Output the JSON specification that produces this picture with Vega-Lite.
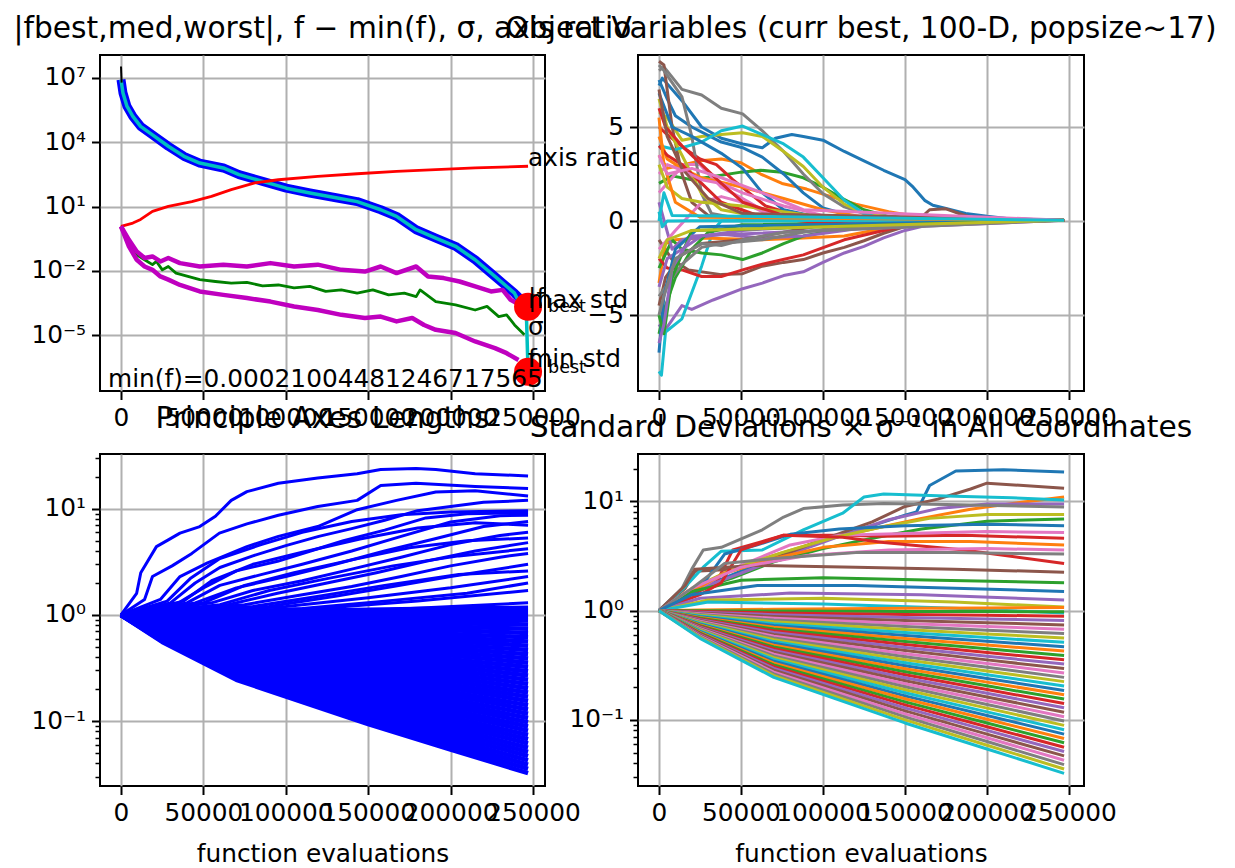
{
"$schema": "https://vega.github.io/schema/vega-lite/v6.json",
"padding": {"left": 12, "top": 13, "right": 0, "bottom": 0},
"background": "white",
"columns": 2,
"spacing": {"row": 63, "column": 93},
"bounds": "flush",
"resolve": {"scale": {"x": "independent", "y": "independent", "color": "independent"}},
"datasets": {
"tl": [
{"s":"absf","x":0,"y":8300000},{"s":"absf","x":1200,"y":2000000},{"s":"absf","x":3600,"y":480000},{"s":"absf","x":7200,"y":160000},{"s":"absf","x":11900,"y":55000},{"s":"absf","x":19100,"y":22000},{"s":"absf","x":28700,"y":6500},{"s":"absf","x":38200,"y":2200},{"s":"absf","x":47800,"y":1070},{"s":"absf","x":62100,"y":630},{"s":"absf","x":71600,"y":310},{"s":"absf","x":85900,"y":150},{"s":"absf","x":100300,"y":72},{"s":"absf","x":114600,"y":43},{"s":"absf","x":131300,"y":25},{"s":"absf","x":143300,"y":17},{"s":"absf","x":157600,"y":7.1},{"s":"absf","x":167200,"y":3.5},{"s":"absf","x":179100,"y":0.83},{"s":"absf","x":191000,"y":0.34},{"s":"absf","x":203000,"y":0.14},{"s":"absf","x":214900,"y":0.033},{"s":"absf","x":226900,"y":0.0055},{"s":"absf","x":238800,"y":0.00091},{"s":"absf","x":244800,"y":0.00032},{"s":"absf","x":247000,"y":0.00021},
{"s":"fmin","x":0,"y":8300000},{"s":"fmin","x":1200,"y":2000000},{"s":"fmin","x":3600,"y":480000},{"s":"fmin","x":7200,"y":160000},{"s":"fmin","x":11900,"y":55000},{"s":"fmin","x":19100,"y":22000},{"s":"fmin","x":28700,"y":6500},{"s":"fmin","x":38200,"y":2200},{"s":"fmin","x":47800,"y":1070},{"s":"fmin","x":62100,"y":630},{"s":"fmin","x":71600,"y":310},{"s":"fmin","x":85900,"y":150},{"s":"fmin","x":100300,"y":72},{"s":"fmin","x":114600,"y":43},{"s":"fmin","x":131300,"y":25},{"s":"fmin","x":143300,"y":17},{"s":"fmin","x":157600,"y":7.1},{"s":"fmin","x":167200,"y":3.5},{"s":"fmin","x":179100,"y":0.83},{"s":"fmin","x":191000,"y":0.34},{"s":"fmin","x":203000,"y":0.14},{"s":"fmin","x":214900,"y":0.033},{"s":"fmin","x":226900,"y":0.0055},{"s":"fmin","x":238800,"y":0.00091},{"s":"fmin","x":244800,"y":0.00011},{"s":"fmin","x":246000,"y":0.00009},{"s":"fmin","x":247000,"y":0.000000195},
{"s":"ar","x":0,"y":1.19},{"s":"ar","x":7200,"y":1.7},{"s":"ar","x":11900,"y":2.5},{"s":"ar","x":19100,"y":6},{"s":"ar","x":28700,"y":10.2},{"s":"ar","x":43000,"y":17},{"s":"ar","x":54900,"y":30},{"s":"ar","x":66900,"y":62},{"s":"ar","x":81200,"y":126},{"s":"ar","x":95500,"y":178},{"s":"ar","x":119400,"y":257},{"s":"ar","x":143300,"y":339},{"s":"ar","x":167200,"y":436},{"s":"ar","x":191000,"y":525},{"s":"ar","x":214900,"y":631},{"s":"ar","x":247000,"y":759},
{"s":"sigma","x":0,"y":1.19},{"s":"sigma","x":4800,"y":0.2},{"s":"sigma","x":9550,"y":0.056},{"s":"sigma","x":14300,"y":0.033},{"s":"sigma","x":19100,"y":0.0195},{"s":"sigma","x":21500,"y":0.0275},{"s":"sigma","x":25100,"y":0.0112},{"s":"sigma","x":28700,"y":0.016},{"s":"sigma","x":33400,"y":0.0079},{"s":"sigma","x":40600,"y":0.0055},{"s":"sigma","x":47800,"y":0.0039},{"s":"sigma","x":57300,"y":0.0032},{"s":"sigma","x":66900,"y":0.0027},{"s":"sigma","x":76400,"y":0.0029},{"s":"sigma","x":85900,"y":0.002},{"s":"sigma","x":95500,"y":0.0022},{"s":"sigma","x":105000,"y":0.0016},{"s":"sigma","x":114600,"y":0.0019},{"s":"sigma","x":124200,"y":0.0011},{"s":"sigma","x":133700,"y":0.0013},{"s":"sigma","x":143300,"y":0.00091},{"s":"sigma","x":152800,"y":0.0013},{"s":"sigma","x":162400,"y":0.00076},{"s":"sigma","x":171900,"y":0.00091},{"s":"sigma","x":179100,"y":0.00063},{"s":"sigma","x":181500,"y":0.0013},{"s":"sigma","x":191000,"y":0.00037},{"s":"sigma","x":203000,"y":0.00026},{"s":"sigma","x":214900,"y":0.00015},{"s":"sigma","x":222100,"y":0.00022},{"s":"sigma","x":229200,"y":0.000074},{"s":"sigma","x":234000,"y":0.000089},{"s":"sigma","x":238800,"y":0.00003},{"s":"sigma","x":244800,"y":0.0000105},
{"s":"maxstd","x":0,"y":1.19},{"s":"maxstd","x":4800,"y":0.28},{"s":"maxstd","x":9550,"y":0.081},{"s":"maxstd","x":14300,"y":0.04},{"s":"maxstd","x":19100,"y":0.047},{"s":"maxstd","x":23900,"y":0.0275},{"s":"maxstd","x":28700,"y":0.04},{"s":"maxstd","x":35800,"y":0.023},{"s":"maxstd","x":47800,"y":0.016},{"s":"maxstd","x":62100,"y":0.0195},{"s":"maxstd","x":76400,"y":0.016},{"s":"maxstd","x":90700,"y":0.023},{"s":"maxstd","x":105000,"y":0.016},{"s":"maxstd","x":119400,"y":0.0195},{"s":"maxstd","x":133700,"y":0.0112},{"s":"maxstd","x":148000,"y":0.0093},{"s":"maxstd","x":157600,"y":0.016},{"s":"maxstd","x":167200,"y":0.0079},{"s":"maxstd","x":179100,"y":0.016},{"s":"maxstd","x":186300,"y":0.0055},{"s":"maxstd","x":195800,"y":0.0046},{"s":"maxstd","x":205400,"y":0.0032},{"s":"maxstd","x":214900,"y":0.0019},{"s":"maxstd","x":224500,"y":0.0011},{"s":"maxstd","x":231600,"y":0.0013},{"s":"maxstd","x":236400,"y":0.00045},{"s":"maxstd","x":240000,"y":0.00032},
{"s":"minstd","x":0,"y":1.19},{"s":"minstd","x":4800,"y":0.138},{"s":"minstd","x":9550,"y":0.033},{"s":"minstd","x":14300,"y":0.016},{"s":"minstd","x":19100,"y":0.0112},{"s":"minstd","x":23900,"y":0.0055},{"s":"minstd","x":28700,"y":0.0039},{"s":"minstd","x":35800,"y":0.0022},{"s":"minstd","x":47800,"y":0.0011},{"s":"minstd","x":62100,"y":0.00076},{"s":"minstd","x":76400,"y":0.00054},{"s":"minstd","x":90700,"y":0.00037},{"s":"minstd","x":105000,"y":0.00022},{"s":"minstd","x":119400,"y":0.00015},{"s":"minstd","x":133700,"y":0.000089},{"s":"minstd","x":148000,"y":0.000063},{"s":"minstd","x":157600,"y":0.000074},{"s":"minstd","x":167200,"y":0.000044},{"s":"minstd","x":176700,"y":0.000063},{"s":"minstd","x":183900,"y":0.00003},{"s":"minstd","x":191000,"y":0.0000178},{"s":"minstd","x":203000,"y":0.0000126},{"s":"minstd","x":214900,"y":0.0000051},{"s":"minstd","x":226900,"y":0.0000025},{"s":"minstd","x":234000,"y":0.00000145},{"s":"minstd","x":241200,"y":0.0000007},
{"s":"worst","x":0,"y":34000000},{"s":"worst","x":400,"y":6000000}
],
"tldots": [{"x":247000,"y":0.00021},{"x":247000,"y":0.000000195}],
"tltext": [
{"x":247000,"y":759,"t":"axis ratio"},
{"x":247000,"y":0.00024,"t":"|f"},
{"x":247000,"y":0.00019,"t":"max std"},
{"x":247000,"y":0.00001,"t":"σ"},
{"x":247000,"y":0.00000033,"t":"f"},
{"x":247000,"y":0.00000033,"t":"min std"},
{"x":-7900,"y":0.000000039,"t":"min(f)=0.00021004481246717565"}
],
"tlsub": [{"x":247000,"y":0.00024,"t":"best"},{"x":247000,"y":0.00000033,"t":"best"}],
"tr": [
{"s":"t01","x":0,"y":7.2},{"s":"t01","x":2000,"y":7.6},{"s":"t01","x":14000,"y":6.4},{"s":"t01","x":26000,"y":5.0},{"s":"t01","x":38000,"y":4.4},{"s":"t01","x":51000,"y":4.1},{"s":"t01","x":63000,"y":3.9},{"s":"t01","x":71000,"y":4.4},{"s":"t01","x":81000,"y":4.6},{"s":"t01","x":88000,"y":4.5},{"s":"t01","x":100000,"y":4.3},{"s":"t01","x":113000,"y":3.7},{"s":"t01","x":125000,"y":3.2},{"s":"t01","x":137000,"y":2.7},{"s":"t01","x":150000,"y":2.2},{"s":"t01","x":155000,"y":1.8},{"s":"t01","x":162000,"y":1.1},{"s":"t01","x":167000,"y":0.84},{"s":"t01","x":175000,"y":0.67},{"s":"t01","x":187000,"y":0.4},{"s":"t01","x":200000,"y":0.25},{"s":"t01","x":212000,"y":0.14},{"s":"t01","x":236000,"y":0.06},{"s":"t01","x":247000,"y":0.05},
{"s":"t02","x":0,"y":3.5},{"s":"t02","x":5000,"y":2.8},{"s":"t02","x":15000,"y":3.0},{"s":"t02","x":25000,"y":3.2},{"s":"t02","x":38000,"y":3.3},{"s":"t02","x":50000,"y":3.1},{"s":"t02","x":62000,"y":2.5},{"s":"t02","x":75000,"y":2.0},{"s":"t02","x":90000,"y":1.7},{"s":"t02","x":105000,"y":1.3},{"s":"t02","x":120000,"y":0.9},{"s":"t02","x":140000,"y":0.5},{"s":"t02","x":160000,"y":0.2},{"s":"t02","x":190000,"y":0.05},{"s":"t02","x":247000,"y":0.04},
{"s":"t03","x":0,"y":2.0},{"s":"t03","x":8000,"y":2.4},{"s":"t03","x":20000,"y":2.2},{"s":"t03","x":35000,"y":2.4},{"s":"t03","x":50000,"y":2.6},{"s":"t03","x":62000,"y":2.7},{"s":"t03","x":75000,"y":2.6},{"s":"t03","x":88000,"y":2.3},{"s":"t03","x":100000,"y":1.8},{"s":"t03","x":112000,"y":1.2},{"s":"t03","x":125000,"y":0.6},{"s":"t03","x":140000,"y":0.25},{"s":"t03","x":170000,"y":0.06},{"s":"t03","x":247000,"y":0.04},
{"s":"t04","x":0,"y":5.0},{"s":"t04","x":5000,"y":4.6},{"s":"t04","x":15000,"y":3.9},{"s":"t04","x":25000,"y":3.3},{"s":"t04","x":35000,"y":3.0},{"s":"t04","x":45000,"y":2.2},{"s":"t04","x":55000,"y":1.5},{"s":"t04","x":65000,"y":0.8},{"s":"t04","x":80000,"y":0.4},{"s":"t04","x":110000,"y":0.15},{"s":"t04","x":160000,"y":0.04},{"s":"t04","x":247000,"y":0.04},
{"s":"t05","x":0,"y":-5.5},{"s":"t05","x":3000,"y":-5.9},{"s":"t05","x":14000,"y":-4.5},{"s":"t05","x":20000,"y":-4.7},{"s":"t05","x":33000,"y":-4.2},{"s":"t05","x":51000,"y":-3.6},{"s":"t05","x":63000,"y":-3.3},{"s":"t05","x":76000,"y":-2.9},{"s":"t05","x":88000,"y":-2.7},{"s":"t05","x":100000,"y":-2.2},{"s":"t05","x":113000,"y":-1.7},{"s":"t05","x":125000,"y":-1.35},{"s":"t05","x":137000,"y":-0.9},{"s":"t05","x":150000,"y":-0.5},{"s":"t05","x":162000,"y":-0.25},{"s":"t05","x":175000,"y":-0.05},{"s":"t05","x":200000,"y":0.03},{"s":"t05","x":247000,"y":0.04},
{"s":"t06","x":0,"y":-1.0},{"s":"t06","x":8000,"y":-2.05},{"s":"t06","x":18000,"y":-2.6},{"s":"t06","x":38000,"y":-2.85},{"s":"t06","x":51000,"y":-2.8},{"s":"t06","x":63000,"y":-2.4},{"s":"t06","x":76000,"y":-2.2},{"s":"t06","x":88000,"y":-2.05},{"s":"t06","x":100000,"y":-1.7},{"s":"t06","x":113000,"y":-1.4},{"s":"t06","x":125000,"y":-1.05},{"s":"t06","x":137000,"y":-0.65},{"s":"t06","x":150000,"y":-0.3},{"s":"t06","x":160000,"y":0.2},{"s":"t06","x":165000,"y":0.6},{"s":"t06","x":175000,"y":0.65},{"s":"t06","x":183000,"y":0.4},{"s":"t06","x":190000,"y":0.2},{"s":"t06","x":210000,"y":0.05},{"s":"t06","x":247000,"y":0.04},
{"s":"t07","x":0,"y":1.5},{"s":"t07","x":10000,"y":2.5},{"s":"t07","x":15000,"y":3.0},{"s":"t07","x":25000,"y":3.0},{"s":"t07","x":38000,"y":1.8},{"s":"t07","x":51000,"y":1.2},{"s":"t07","x":63000,"y":0.6},{"s":"t07","x":76000,"y":0.25},{"s":"t07","x":100000,"y":0.08},{"s":"t07","x":247000,"y":0.04},
{"s":"t08","x":0,"y":8.0},{"s":"t08","x":3000,"y":8.2},{"s":"t08","x":14000,"y":7.0},{"s":"t08","x":26000,"y":6.7},{"s":"t08","x":38000,"y":6.0},{"s":"t08","x":51000,"y":5.7},{"s":"t08","x":63000,"y":4.8},{"s":"t08","x":76000,"y":3.7},{"s":"t08","x":88000,"y":2.5},{"s":"t08","x":100000,"y":1.45},{"s":"t08","x":113000,"y":0.75},{"s":"t08","x":125000,"y":0.4},{"s":"t08","x":137000,"y":0.15},{"s":"t08","x":162000,"y":0.05},{"s":"t08","x":247000,"y":0.04},
{"s":"t09","x":0,"y":5.8},{"s":"t09","x":5000,"y":5.5},{"s":"t09","x":14000,"y":4.3},{"s":"t09","x":26000,"y":4.5},{"s":"t09","x":38000,"y":4.6},{"s":"t09","x":51000,"y":4.7},{"s":"t09","x":63000,"y":4.5},{"s":"t09","x":76000,"y":3.7},{"s":"t09","x":88000,"y":2.9},{"s":"t09","x":100000,"y":1.8},{"s":"t09","x":113000,"y":0.9},{"s":"t09","x":125000,"y":0.4},{"s":"t09","x":150000,"y":0.1},{"s":"t09","x":247000,"y":0.04},
{"s":"t10","x":0,"y":-8.0},{"s":"t10","x":1500,"y":-8.2},{"s":"t10","x":4000,"y":-5.9},{"s":"t10","x":14000,"y":-5.2},{"s":"t10","x":26000,"y":-2.4},{"s":"t10","x":33000,"y":-0.5},{"s":"t10","x":38000,"y":0.0},{"s":"t10","x":247000,"y":0.04},
{"s":"t11","x":0,"y":7.5},{"s":"t11","x":5000,"y":6.5},{"s":"t11","x":10000,"y":5.6},{"s":"t11","x":20000,"y":5.0},{"s":"t11","x":38000,"y":4.2},{"s":"t11","x":51000,"y":3.9},{"s":"t11","x":63000,"y":3.4},{"s":"t11","x":76000,"y":2.5},{"s":"t11","x":88000,"y":1.5},{"s":"t11","x":100000,"y":0.7},{"s":"t11","x":120000,"y":0.2},{"s":"t11","x":150000,"y":0.05},{"s":"t11","x":247000,"y":0.04},
{"s":"t12","x":0,"y":-3.3},{"s":"t12","x":4000,"y":-1.2},{"s":"t12","x":10000,"y":-1.0},{"s":"t12","x":26000,"y":-0.9},{"s":"t12","x":63000,"y":-1.0},{"s":"t12","x":88000,"y":-0.9},{"s":"t12","x":113000,"y":-0.8},{"s":"t12","x":137000,"y":-0.4},{"s":"t12","x":162000,"y":-0.15},{"s":"t12","x":200000,"y":-0.05},{"s":"t12","x":247000,"y":0.04},
{"s":"t13","x":0,"y":-2.5},{"s":"t13","x":8000,"y":-1.0},{"s":"t13","x":14000,"y":-1.5},{"s":"t13","x":26000,"y":-1.7},{"s":"t13","x":38000,"y":-1.8},{"s":"t13","x":51000,"y":-2.05},{"s":"t13","x":63000,"y":-1.7},{"s":"t13","x":76000,"y":-1.2},{"s":"t13","x":88000,"y":-0.8},{"s":"t13","x":113000,"y":-0.4},{"s":"t13","x":137000,"y":-0.15},{"s":"t13","x":175000,"y":-0.02},{"s":"t13","x":247000,"y":0.04},
{"s":"t14","x":0,"y":-2.0},{"s":"t14","x":5000,"y":-2.5},{"s":"t14","x":14000,"y":-2.6},{"s":"t14","x":26000,"y":-2.95},{"s":"t14","x":38000,"y":-2.95},{"s":"t14","x":51000,"y":-2.6},{"s":"t14","x":63000,"y":-2.3},{"s":"t14","x":88000,"y":-1.8},{"s":"t14","x":113000,"y":-1.0},{"s":"t14","x":137000,"y":-0.5},{"s":"t14","x":150000,"y":-0.25},{"s":"t14","x":175000,"y":-0.05},{"s":"t14","x":247000,"y":0.04},
{"s":"t15","x":0,"y":1.0},{"s":"t15","x":8000,"y":-1.5},{"s":"t15","x":14000,"y":-1.0},{"s":"t15","x":38000,"y":-0.7},{"s":"t15","x":63000,"y":-0.9},{"s":"t15","x":88000,"y":-0.8},{"s":"t15","x":113000,"y":-0.5},{"s":"t15","x":137000,"y":-0.2},{"s":"t15","x":175000,"y":0.0},{"s":"t15","x":247000,"y":0.04},
{"s":"t16","x":0,"y":8.5},{"s":"t16","x":3000,"y":8.3},{"s":"t16","x":8000,"y":5.0},{"s":"t16","x":14000,"y":2.5},{"s":"t16","x":20000,"y":1.0},{"s":"t16","x":30000,"y":0.3},{"s":"t16","x":60000,"y":0.1},{"s":"t16","x":247000,"y":0.04},
{"s":"t17","x":0,"y":-1.5},{"s":"t17","x":10000,"y":-0.5},{"s":"t17","x":26000,"y":1.0},{"s":"t17","x":38000,"y":1.3},{"s":"t17","x":51000,"y":1.0},{"s":"t17","x":63000,"y":0.5},{"s":"t17","x":88000,"y":0.2},{"s":"t17","x":247000,"y":0.04},
{"s":"t18","x":0,"y":8.3},{"s":"t18","x":3000,"y":8.0},{"s":"t18","x":14000,"y":6.6},{"s":"t18","x":20000,"y":4.5},{"s":"t18","x":26000,"y":1.45},{"s":"t18","x":32000,"y":0.4},{"s":"t18","x":51000,"y":0.1},{"s":"t18","x":247000,"y":0.04},
{"s":"t19","x":0,"y":6.5},{"s":"t19","x":5000,"y":5.0},{"s":"t19","x":14000,"y":3.5},{"s":"t19","x":26000,"y":1.45},{"s":"t19","x":38000,"y":0.6},{"s":"t19","x":63000,"y":0.2},{"s":"t19","x":247000,"y":0.04},
{"s":"t20","x":0,"y":4.0},{"s":"t20","x":10000,"y":3.8},{"s":"t20","x":26000,"y":4.2},{"s":"t20","x":38000,"y":4.8},{"s":"t20","x":51000,"y":5.05},{"s":"t20","x":63000,"y":4.6},{"s":"t20","x":76000,"y":4.1},{"s":"t20","x":88000,"y":3.4},{"s":"t20","x":100000,"y":2.3},{"s":"t20","x":113000,"y":1.1},{"s":"t20","x":125000,"y":0.4},{"s":"t20","x":137000,"y":0.1},{"s":"t20","x":162000,"y":0.05},{"s":"t20","x":247000,"y":0.04},
{"s":"t21","x":0,"y":6.8},{"s":"t21","x":8000,"y":5.0},{"s":"t21","x":20000,"y":4.5},{"s":"t21","x":38000,"y":3.6},{"s":"t21","x":51000,"y":2.8},{"s":"t21","x":63000,"y":1.5},{"s":"t21","x":76000,"y":0.6},{"s":"t21","x":100000,"y":0.15},{"s":"t21","x":247000,"y":0.04},
{"s":"t22","x":0,"y":4.5},{"s":"t22","x":5000,"y":3.3},{"s":"t22","x":14000,"y":2.8},{"s":"t22","x":26000,"y":2.3},{"s":"t22","x":51000,"y":1.8},{"s":"t22","x":76000,"y":1.2},{"s":"t22","x":100000,"y":0.6},{"s":"t22","x":125000,"y":0.2},{"s":"t22","x":175000,"y":0.05},{"s":"t22","x":247000,"y":0.04},
{"s":"t23","x":0,"y":-6.0},{"s":"t23","x":4000,"y":-4.5},{"s":"t23","x":10000,"y":-3.0},{"s":"t23","x":20000,"y":-1.5},{"s":"t23","x":30000,"y":-0.6},{"s":"t23","x":51000,"y":-0.2},{"s":"t23","x":247000,"y":0.04},
{"s":"t24","x":0,"y":4.0},{"s":"t24","x":5000,"y":3.5},{"s":"t24","x":14000,"y":3.0},{"s":"t24","x":26000,"y":2.0},{"s":"t24","x":38000,"y":1.0},{"s":"t24","x":63000,"y":0.2},{"s":"t24","x":100000,"y":-0.1},{"s":"t24","x":150000,"y":-0.15},{"s":"t24","x":175000,"y":-0.05},{"s":"t24","x":247000,"y":0.04},
{"s":"t25","x":0,"y":-3.5},{"s":"t25","x":5000,"y":-2.0},{"s":"t25","x":14000,"y":-1.5},{"s":"t25","x":26000,"y":-0.8},{"s":"t25","x":51000,"y":-0.5},{"s":"t25","x":88000,"y":-0.3},{"s":"t25","x":125000,"y":-0.1},{"s":"t25","x":247000,"y":0.04},
{"s":"t26","x":0,"y":-4.5},{"s":"t26","x":4000,"y":-3.0},{"s":"t26","x":14000,"y":-1.8},{"s":"t26","x":26000,"y":-1.2},{"s":"t26","x":51000,"y":-1.0},{"s":"t26","x":76000,"y":-0.6},{"s":"t26","x":100000,"y":-0.2},{"s":"t26","x":247000,"y":0.04},
{"s":"t27","x":0,"y":2.5},{"s":"t27","x":5000,"y":3.0},{"s":"t27","x":14000,"y":2.7},{"s":"t27","x":26000,"y":2.2},{"s":"t27","x":38000,"y":2.0},{"s":"t27","x":51000,"y":1.5},{"s":"t27","x":76000,"y":0.8},{"s":"t27","x":100000,"y":0.3},{"s":"t27","x":247000,"y":0.04},
{"s":"t28","x":0,"y":-4.0},{"s":"t28","x":4000,"y":-3.5},{"s":"t28","x":14000,"y":-2.3},{"s":"t28","x":26000,"y":-1.4},{"s":"t28","x":38000,"y":-1.2},{"s":"t28","x":63000,"y":-1.0},{"s":"t28","x":88000,"y":-0.6},{"s":"t28","x":113000,"y":-0.3},{"s":"t28","x":150000,"y":-0.1},{"s":"t28","x":247000,"y":0.04},
{"s":"t29","x":0,"y":3.0},{"s":"t29","x":5000,"y":1.8},{"s":"t29","x":14000,"y":1.2},{"s":"t29","x":26000,"y":1.0},{"s":"t29","x":51000,"y":0.8},{"s":"t29","x":76000,"y":0.5},{"s":"t29","x":100000,"y":0.2},{"s":"t29","x":247000,"y":0.04},
{"s":"t30","x":0,"y":0.5},{"s":"t30","x":2000,"y":-0.3},{"s":"t30","x":5000,"y":0.0},{"s":"t30","x":20000,"y":0.02},{"s":"t30","x":247000,"y":0.04},
{"s":"t31","x":0,"y":-7.0},{"s":"t31","x":3000,"y":-4.0},{"s":"t31","x":10000,"y":-1.5},{"s":"t31","x":25000,"y":-0.3},{"s":"t31","x":247000,"y":0.04},
{"s":"t32","x":0,"y":5.5},{"s":"t32","x":3000,"y":3.0},{"s":"t32","x":10000,"y":1.0},{"s":"t32","x":25000,"y":0.2},{"s":"t32","x":247000,"y":0.04},
{"s":"t33","x":0,"y":-5.0},{"s":"t33","x":3000,"y":-6.0},{"s":"t33","x":8000,"y":-3.0},{"s":"t33","x":20000,"y":-0.5},{"s":"t33","x":247000,"y":0.04},
{"s":"t34","x":0,"y":6.0},{"s":"t34","x":4000,"y":5.0},{"s":"t34","x":14000,"y":4.0},{"s":"t34","x":26000,"y":3.0},{"s":"t34","x":38000,"y":2.0},{"s":"t34","x":51000,"y":1.0},{"s":"t34","x":76000,"y":0.3},{"s":"t34","x":247000,"y":0.04},
{"s":"t35","x":0,"y":-6.5},{"s":"t35","x":3000,"y":-5.5},{"s":"t35","x":8000,"y":-2.5},{"s":"t35","x":20000,"y":-0.8},{"s":"t35","x":247000,"y":0.04},
{"s":"t36","x":0,"y":7.0},{"s":"t36","x":5000,"y":4.5},{"s":"t36","x":14000,"y":2.8},{"s":"t36","x":30000,"y":1.2},{"s":"t36","x":51000,"y":0.4},{"s":"t36","x":247000,"y":0.04},
{"s":"t37","x":0,"y":3.5},{"s":"t37","x":5000,"y":2.5},{"s":"t37","x":20000,"y":2.8},{"s":"t37","x":38000,"y":2.3},{"s":"t37","x":63000,"y":1.5},{"s":"t37","x":88000,"y":0.6},{"s":"t37","x":247000,"y":0.04},
{"s":"t38","x":0,"y":-5.0},{"s":"t38","x":3000,"y":-4.0},{"s":"t38","x":10000,"y":-2.0},{"s":"t38","x":26000,"y":-1.2},{"s":"t38","x":38000,"y":-1.3},{"s":"t38","x":51000,"y":-1.0},{"s":"t38","x":76000,"y":-0.6},{"s":"t38","x":247000,"y":0.04},
{"s":"t39","x":0,"y":-2.0},{"s":"t39","x":5000,"y":-1.0},{"s":"t39","x":20000,"y":-0.5},{"s":"t39","x":247000,"y":0.04},
{"s":"t40","x":0,"y":0.0},{"s":"t40","x":3000,"y":1.5},{"s":"t40","x":8000,"y":0.3},{"s":"t40","x":247000,"y":0.04}
],
"bl": [
{"s":"b01","x":0,"y":1},{"s":"b01","x":9500,"y":1.6},{"s":"b01","x":12000,"y":2.5},{"s":"b01","x":21500,"y":4.4},{"s":"b01","x":28700,"y":5.1},{"s":"b01","x":35800,"y":5.9},{"s":"b01","x":47800,"y":6.8},{"s":"b01","x":57300,"y":8.5},{"s":"b01","x":66900,"y":12},{"s":"b01","x":76400,"y":14.5},{"s":"b01","x":95500,"y":17.4},{"s":"b01","x":119400,"y":19.5},{"s":"b01","x":143300,"y":21.4},{"s":"b01","x":157600,"y":23.4},{"s":"b01","x":179000,"y":24},{"s":"b01","x":191000,"y":23.4},{"s":"b01","x":214900,"y":21.4},{"s":"b01","x":247000,"y":20.4},
{"s":"b02","x":0,"y":1},{"s":"b02","x":14300,"y":1.4},{"s":"b02","x":19100,"y":2.3},{"s":"b02","x":31000,"y":2.9},{"s":"b02","x":43000,"y":3.8},{"s":"b02","x":59700,"y":5.9},{"s":"b02","x":76400,"y":7.2},{"s":"b02","x":95500,"y":8.7},{"s":"b02","x":119400,"y":10.5},{"s":"b02","x":143300,"y":12},{"s":"b02","x":157600,"y":16.6},{"s":"b02","x":179000,"y":17.4},{"s":"b02","x":214900,"y":16.2},{"s":"b02","x":247000,"y":15.5},
{"s":"b03","x":0,"y":1},{"s":"b03","x":23900,"y":1.4},{"s":"b03","x":35800,"y":2.3},{"s":"b03","x":52500,"y":3.1},{"s":"b03","x":76400,"y":4.4},{"s":"b03","x":95500,"y":5.5},{"s":"b03","x":119400,"y":6.8},{"s":"b03","x":143300,"y":9.8},{"s":"b03","x":167200,"y":12},{"s":"b03","x":191000,"y":14.4},{"s":"b03","x":214900,"y":14.8},{"s":"b03","x":247000,"y":13.2},
{"s":"b04","x":0,"y":1},{"s":"b04","x":30000,"y":1.3},{"s":"b04","x":45000,"y":2.0},{"s":"b04","x":60000,"y":2.8},{"s":"b04","x":80000,"y":3.6},{"s":"b04","x":100000,"y":4.5},{"s":"b04","x":120000,"y":5.5},{"s":"b04","x":140000,"y":6.5},{"s":"b04","x":160000,"y":7.8},{"s":"b04","x":180000,"y":9.6},{"s":"b04","x":200000,"y":10.5},{"s":"b04","x":220000,"y":11.5},{"s":"b04","x":247000,"y":12},
{"s":"b05","x":0,"y":1},{"s":"b05","x":35000,"y":1.3},{"s":"b05","x":50000,"y":1.8},{"s":"b05","x":70000,"y":2.6},{"s":"b05","x":95000,"y":3.2},{"s":"b05","x":115000,"y":4.0},{"s":"b05","x":135000,"y":5.0},{"s":"b05","x":160000,"y":6.3},{"s":"b05","x":185000,"y":8.2},{"s":"b05","x":210000,"y":9.0},{"s":"b05","x":247000,"y":9.2},
{"s":"b06","x":0,"y":1},{"s":"b06","x":40000,"y":1.3},{"s":"b06","x":60000,"y":1.9},{"s":"b06","x":85000,"y":2.4},{"s":"b06","x":110000,"y":3.0},{"s":"b06","x":140000,"y":4.0},{"s":"b06","x":170000,"y":5.5},{"s":"b06","x":200000,"y":7.5},{"s":"b06","x":230000,"y":8.6},{"s":"b06","x":247000,"y":8.7},
{"s":"b07","x":0,"y":1},{"s":"b07","x":45000,"y":1.3},{"s":"b07","x":70000,"y":1.8},{"s":"b07","x":100000,"y":2.3},{"s":"b07","x":130000,"y":3.0},{"s":"b07","x":160000,"y":4.0},{"s":"b07","x":190000,"y":5.2},{"s":"b07","x":220000,"y":6.8},{"s":"b07","x":247000,"y":7.6},
{"s":"b08","x":0,"y":1},{"s":"b08","x":55000,"y":1.3},{"s":"b08","x":80000,"y":1.7},{"s":"b08","x":110000,"y":2.1},{"s":"b08","x":140000,"y":2.7},{"s":"b08","x":170000,"y":3.5},{"s":"b08","x":200000,"y":4.6},{"s":"b08","x":230000,"y":5.6},{"s":"b08","x":247000,"y":6.0},
{"s":"b09","x":0,"y":1},{"s":"b09","x":65000,"y":1.25},{"s":"b09","x":95000,"y":1.6},{"s":"b09","x":125000,"y":2.0},{"s":"b09","x":155000,"y":2.5},{"s":"b09","x":185000,"y":3.2},{"s":"b09","x":215000,"y":4.0},{"s":"b09","x":247000,"y":4.8},
{"s":"b10","x":0,"y":1},{"s":"b10","x":75000,"y":1.25},{"s":"b10","x":110000,"y":1.55},{"s":"b10","x":140000,"y":1.85},{"s":"b10","x":170000,"y":2.3},{"s":"b10","x":200000,"y":2.9},{"s":"b10","x":230000,"y":3.5},{"s":"b10","x":247000,"y":3.8},
{"s":"b11","x":0,"y":1},{"s":"b11","x":90000,"y":1.2},{"s":"b11","x":130000,"y":1.5},{"s":"b11","x":165000,"y":1.85},{"s":"b11","x":200000,"y":2.3},{"s":"b11","x":247000,"y":3.0},
{"s":"b12","x":0,"y":1},{"s":"b12","x":100000,"y":1.2},{"s":"b12","x":150000,"y":1.45},{"s":"b12","x":200000,"y":1.8},{"s":"b12","x":247000,"y":2.3},
{"s":"b13","x":0,"y":1},{"s":"b13","x":120000,"y":1.15},{"s":"b13","x":180000,"y":1.35},{"s":"b13","x":247000,"y":1.7},
{"s":"b14","x":0,"y":1},{"s":"b14","x":150000,"y":1.1},{"s":"b14","x":247000,"y":1.3},
{"s":"b15","x":0,"y":1},{"s":"b15","x":28000,"y":1.35},{"s":"b15","x":42000,"y":2.2},{"s":"b15","x":60000,"y":3.4},{"s":"b15","x":85000,"y":4.6},{"s":"b15","x":110000,"y":6.0},{"s":"b15","x":140000,"y":7.6},{"s":"b15","x":170000,"y":8.8},{"s":"b15","x":200000,"y":9.3},{"s":"b15","x":247000,"y":9.6},
{"s":"b16","x":0,"y":1},{"s":"b16","x":38000,"y":1.35},{"s":"b16","x":55000,"y":2.1},{"s":"b16","x":80000,"y":3.0},{"s":"b16","x":110000,"y":3.9},{"s":"b16","x":145000,"y":5.2},{"s":"b16","x":180000,"y":6.6},{"s":"b16","x":215000,"y":7.4},{"s":"b16","x":247000,"y":7.0},
{"s":"b17","x":0,"y":1},{"s":"b17","x":50000,"y":1.3},{"s":"b17","x":75000,"y":1.9},{"s":"b17","x":105000,"y":2.5},{"s":"b17","x":140000,"y":3.3},{"s":"b17","x":175000,"y":4.3},{"s":"b17","x":210000,"y":5.0},{"s":"b17","x":247000,"y":5.3},
{"s":"b18","x":0,"y":1},{"s":"b18","x":60000,"y":1.25},{"s":"b18","x":90000,"y":1.7},{"s":"b18","x":125000,"y":2.2},{"s":"b18","x":165000,"y":2.9},{"s":"b18","x":205000,"y":3.6},{"s":"b18","x":247000,"y":4.2},
{"s":"b19","x":0,"y":1},{"s":"b19","x":80000,"y":1.2},{"s":"b19","x":120000,"y":1.5},{"s":"b19","x":160000,"y":1.9},{"s":"b19","x":205000,"y":2.4},{"s":"b19","x":247000,"y":2.6},
{"s":"b20","x":0,"y":1},{"s":"b20","x":110000,"y":1.15},{"s":"b20","x":160000,"y":1.35},{"s":"b20","x":210000,"y":1.6},{"s":"b20","x":247000,"y":2.0},
{"s":"d01","x":0,"y":1},{"s":"d01","x":25000,"y":0.558},{"s":"d01","x":70000,"y":0.245},{"s":"d01","x":150000,"y":0.0937},{"s":"d01","x":200000,"y":0.0541},{"s":"d01","x":247000,"y":0.0324},
{"s":"d02","x":0,"y":1},{"s":"d02","x":25000,"y":0.567},{"s":"d02","x":70000,"y":0.254},{"s":"d02","x":150000,"y":0.0999},{"s":"d02","x":200000,"y":0.0586},{"s":"d02","x":247000,"y":0.0355},
{"s":"d03","x":0,"y":1},{"s":"d03","x":25000,"y":0.576},{"s":"d03","x":70000,"y":0.264},{"s":"d03","x":150000,"y":0.1064},{"s":"d03","x":200000,"y":0.0633},{"s":"d03","x":247000,"y":0.0389},
{"s":"d04","x":0,"y":1},{"s":"d04","x":25000,"y":0.585},{"s":"d04","x":70000,"y":0.274},{"s":"d04","x":150000,"y":0.1135},{"s":"d04","x":200000,"y":0.0685},{"s":"d04","x":247000,"y":0.0427},
{"s":"d05","x":0,"y":1},{"s":"d05","x":25000,"y":0.594},{"s":"d05","x":70000,"y":0.285},{"s":"d05","x":150000,"y":0.1209},{"s":"d05","x":200000,"y":0.074},{"s":"d05","x":247000,"y":0.0468},
{"s":"d06","x":0,"y":1},{"s":"d06","x":25000,"y":0.604},{"s":"d06","x":70000,"y":0.296},{"s":"d06","x":150000,"y":0.1288},{"s":"d06","x":200000,"y":0.0801},{"s":"d06","x":247000,"y":0.0513},
{"s":"d07","x":0,"y":1},{"s":"d07","x":25000,"y":0.613},{"s":"d07","x":70000,"y":0.307},{"s":"d07","x":150000,"y":0.1372},{"s":"d07","x":200000,"y":0.0866},{"s":"d07","x":247000,"y":0.0562},
{"s":"d08","x":0,"y":1},{"s":"d08","x":25000,"y":0.623},{"s":"d08","x":70000,"y":0.319},{"s":"d08","x":150000,"y":0.1462},{"s":"d08","x":200000,"y":0.0936},{"s":"d08","x":247000,"y":0.0617},
{"s":"d09","x":0,"y":1},{"s":"d09","x":25000,"y":0.633},{"s":"d09","x":70000,"y":0.331},{"s":"d09","x":150000,"y":0.156},{"s":"d09","x":200000,"y":0.1013},{"s":"d09","x":247000,"y":0.0676},
{"s":"d10","x":0,"y":1},{"s":"d10","x":25000,"y":0.643},{"s":"d10","x":70000,"y":0.344},{"s":"d10","x":150000,"y":0.166},{"s":"d10","x":200000,"y":0.1095},{"s":"d10","x":247000,"y":0.0741},
{"s":"d11","x":0,"y":1},{"s":"d11","x":25000,"y":0.653},{"s":"d11","x":70000,"y":0.357},{"s":"d11","x":150000,"y":0.177},{"s":"d11","x":200000,"y":0.1184},{"s":"d11","x":247000,"y":0.0813},
{"s":"d12","x":0,"y":1},{"s":"d12","x":25000,"y":0.663},{"s":"d12","x":70000,"y":0.371},{"s":"d12","x":150000,"y":0.1886},{"s":"d12","x":200000,"y":0.1281},{"s":"d12","x":247000,"y":0.0891},
{"s":"d13","x":0,"y":1},{"s":"d13","x":25000,"y":0.674},{"s":"d13","x":70000,"y":0.385},{"s":"d13","x":150000,"y":0.201},{"s":"d13","x":200000,"y":0.1385},{"s":"d13","x":247000,"y":0.0977},
{"s":"d14","x":0,"y":1},{"s":"d14","x":25000,"y":0.684},{"s":"d14","x":70000,"y":0.4},{"s":"d14","x":150000,"y":0.214},{"s":"d14","x":200000,"y":0.1498},{"s":"d14","x":247000,"y":0.107},
{"s":"d15","x":0,"y":1},{"s":"d15","x":25000,"y":0.695},{"s":"d15","x":70000,"y":0.416},{"s":"d15","x":150000,"y":0.228},{"s":"d15","x":200000,"y":0.162},{"s":"d15","x":247000,"y":0.1175},
{"s":"d16","x":0,"y":1},{"s":"d16","x":25000,"y":0.706},{"s":"d16","x":70000,"y":0.432},{"s":"d16","x":150000,"y":0.243},{"s":"d16","x":200000,"y":0.1752},{"s":"d16","x":247000,"y":0.129},
{"s":"d17","x":0,"y":1},{"s":"d17","x":25000,"y":0.717},{"s":"d17","x":70000,"y":0.448},{"s":"d17","x":150000,"y":0.259},{"s":"d17","x":200000,"y":0.1895},{"s":"d17","x":247000,"y":0.141},
{"s":"d18","x":0,"y":1},{"s":"d18","x":25000,"y":0.728},{"s":"d18","x":70000,"y":0.466},{"s":"d18","x":150000,"y":0.276},{"s":"d18","x":200000,"y":0.2049},{"s":"d18","x":247000,"y":0.155},
{"s":"d19","x":0,"y":1},{"s":"d19","x":25000,"y":0.74},{"s":"d19","x":70000,"y":0.483},{"s":"d19","x":150000,"y":0.294},{"s":"d19","x":200000,"y":0.2216},{"s":"d19","x":247000,"y":0.17},
{"s":"d20","x":0,"y":1},{"s":"d20","x":25000,"y":0.751},{"s":"d20","x":70000,"y":0.502},{"s":"d20","x":150000,"y":0.313},{"s":"d20","x":200000,"y":0.2396},{"s":"d20","x":247000,"y":0.186},
{"s":"d21","x":0,"y":1},{"s":"d21","x":25000,"y":0.763},{"s":"d21","x":70000,"y":0.521},{"s":"d21","x":150000,"y":0.334},{"s":"d21","x":200000,"y":0.2591},{"s":"d21","x":247000,"y":0.204},
{"s":"d22","x":0,"y":1},{"s":"d22","x":25000,"y":0.775},{"s":"d22","x":70000,"y":0.541},{"s":"d22","x":150000,"y":0.356},{"s":"d22","x":200000,"y":0.2802},{"s":"d22","x":247000,"y":0.224},
{"s":"d23","x":0,"y":1},{"s":"d23","x":25000,"y":0.788},{"s":"d23","x":70000,"y":0.562},{"s":"d23","x":150000,"y":0.379},{"s":"d23","x":200000,"y":0.303},{"s":"d23","x":247000,"y":0.245},
{"s":"d24","x":0,"y":1},{"s":"d24","x":25000,"y":0.8},{"s":"d24","x":70000,"y":0.584},{"s":"d24","x":150000,"y":0.404},{"s":"d24","x":200000,"y":0.3277},{"s":"d24","x":247000,"y":0.269},
{"s":"d25","x":0,"y":1},{"s":"d25","x":25000,"y":0.813},{"s":"d25","x":70000,"y":0.606},{"s":"d25","x":150000,"y":0.431},{"s":"d25","x":200000,"y":0.3543},{"s":"d25","x":247000,"y":0.295},
{"s":"d26","x":0,"y":1},{"s":"d26","x":25000,"y":0.826},{"s":"d26","x":70000,"y":0.63},{"s":"d26","x":150000,"y":0.459},{"s":"d26","x":200000,"y":0.3832},{"s":"d26","x":247000,"y":0.324},
{"s":"d27","x":0,"y":1},{"s":"d27","x":25000,"y":0.839},{"s":"d27","x":70000,"y":0.654},{"s":"d27","x":150000,"y":0.489},{"s":"d27","x":200000,"y":0.4144},{"s":"d27","x":247000,"y":0.355},
{"s":"d28","x":0,"y":1},{"s":"d28","x":25000,"y":0.852},{"s":"d28","x":70000,"y":0.679},{"s":"d28","x":150000,"y":0.521},{"s":"d28","x":200000,"y":0.4481},{"s":"d28","x":247000,"y":0.389},
{"s":"d29","x":0,"y":1},{"s":"d29","x":25000,"y":0.865},{"s":"d29","x":70000,"y":0.705},{"s":"d29","x":150000,"y":0.556},{"s":"d29","x":200000,"y":0.4846},{"s":"d29","x":247000,"y":0.427},
{"s":"d30","x":0,"y":1},{"s":"d30","x":25000,"y":0.879},{"s":"d30","x":70000,"y":0.732},{"s":"d30","x":150000,"y":0.592},{"s":"d30","x":200000,"y":0.524},{"s":"d30","x":247000,"y":0.468},
{"s":"d31","x":0,"y":1},{"s":"d31","x":25000,"y":0.893},{"s":"d31","x":70000,"y":0.76},{"s":"d31","x":150000,"y":0.631},{"s":"d31","x":200000,"y":0.5667},{"s":"d31","x":247000,"y":0.513},
{"s":"d32","x":0,"y":1},{"s":"d32","x":25000,"y":0.907},{"s":"d32","x":70000,"y":0.79},{"s":"d32","x":150000,"y":0.672},{"s":"d32","x":200000,"y":0.6129},{"s":"d32","x":247000,"y":0.562},
{"s":"d33","x":0,"y":1},{"s":"d33","x":25000,"y":0.921},{"s":"d33","x":70000,"y":0.82},{"s":"d33","x":150000,"y":0.716},{"s":"d33","x":200000,"y":0.6628},{"s":"d33","x":247000,"y":0.617},
{"s":"d34","x":0,"y":1},{"s":"d34","x":25000,"y":0.936},{"s":"d34","x":70000,"y":0.851},{"s":"d34","x":150000,"y":0.763},{"s":"d34","x":200000,"y":0.7167},{"s":"d34","x":247000,"y":0.676},
{"s":"d35","x":0,"y":1},{"s":"d35","x":25000,"y":0.95},{"s":"d35","x":70000,"y":0.885},{"s":"d35","x":150000,"y":0.813},{"s":"d35","x":200000,"y":0.775},{"s":"d35","x":247000,"y":0.741},
{"s":"d36","x":0,"y":1},{"s":"d36","x":25000,"y":0.965},{"s":"d36","x":70000,"y":0.919},{"s":"d36","x":150000,"y":0.867},{"s":"d36","x":200000,"y":0.8384},{"s":"d36","x":247000,"y":0.813},
{"s":"d37","x":0,"y":1},{"s":"d37","x":25000,"y":0.981},{"s":"d37","x":70000,"y":0.954},{"s":"d37","x":150000,"y":0.924},{"s":"d37","x":200000,"y":0.9068},{"s":"d37","x":247000,"y":0.891},
{"s":"d38","x":0,"y":1},{"s":"d38","x":25000,"y":0.996},{"s":"d38","x":70000,"y":0.991},{"s":"d38","x":150000,"y":0.984},{"s":"d38","x":200000,"y":0.9806},{"s":"d38","x":247000,"y":0.977},
{"s":"d39","x":0,"y":1},{"s":"d39","x":25000,"y":1.012},{"s":"d39","x":70000,"y":1.03},{"s":"d39","x":150000,"y":1.05},{"s":"d39","x":200000,"y":1.06},{"s":"d39","x":247000,"y":1.07},
{"s":"d40","x":0,"y":1},{"s":"d40","x":25000,"y":1.028},{"s":"d40","x":70000,"y":1.07},{"s":"d40","x":150000,"y":1.12},{"s":"d40","x":200000,"y":1.147},{"s":"d40","x":247000,"y":1.17}
],
"br": [
{"s":"c01","x":0,"y":1},{"s":"c01","x":20000,"y":1.5},{"s":"c01","x":50000,"y":2.3},{"s":"c01","x":75000,"y":3.2},{"s":"c01","x":100000,"y":4.5},{"s":"c01","x":130000,"y":6.0},{"s":"c01","x":150000,"y":7.5},{"s":"c01","x":157000,"y":8.0},{"s":"c01","x":165000,"y":14},{"s":"c01","x":181000,"y":19},{"s":"c01","x":210000,"y":19.5},{"s":"c01","x":247000,"y":18.6},
{"s":"c02","x":0,"y":1},{"s":"c02","x":25000,"y":1.7},{"s":"c02","x":45000,"y":2.4},{"s":"c02","x":70000,"y":3.2},{"s":"c02","x":100000,"y":4.4},{"s":"c02","x":130000,"y":5.6},{"s":"c02","x":160000,"y":7.0},{"s":"c02","x":190000,"y":8.5},{"s":"c02","x":220000,"y":9.8},{"s":"c02","x":247000,"y":11},
{"s":"c03","x":0,"y":1},{"s":"c03","x":20000,"y":1.5},{"s":"c03","x":45000,"y":2.0},{"s":"c03","x":70000,"y":2.8},{"s":"c03","x":100000,"y":3.7},{"s":"c03","x":130000,"y":4.6},{"s":"c03","x":160000,"y":5.6},{"s":"c03","x":200000,"y":6.6},{"s":"c03","x":247000,"y":6.9},
{"s":"c04","x":0,"y":1},{"s":"c04","x":35000,"y":1.8},{"s":"c04","x":45000,"y":3.6},{"s":"c04","x":76000,"y":4.9},{"s":"c04","x":112000,"y":4.9},{"s":"c04","x":137000,"y":4.8},{"s":"c04","x":186000,"y":4.9},{"s":"c04","x":247000,"y":4.6},
{"s":"c05","x":0,"y":1},{"s":"c05","x":20000,"y":1.5},{"s":"c05","x":50000,"y":2.2},{"s":"c05","x":80000,"y":3.3},{"s":"c05","x":110000,"y":4.8},{"s":"c05","x":140000,"y":6.8},{"s":"c05","x":170000,"y":8.6},{"s":"c05","x":200000,"y":9.5},{"s":"c05","x":247000,"y":9.5},
{"s":"c06","x":0,"y":1},{"s":"c06","x":16000,"y":1.6},{"s":"c06","x":22000,"y":2.3},{"s":"c06","x":45000,"y":2.4},{"s":"c06","x":70000,"y":3.0},{"s":"c06","x":100000,"y":4.5},{"s":"c06","x":130000,"y":6.5},{"s":"c06","x":150000,"y":9.0},{"s":"c06","x":170000,"y":10.5},{"s":"c06","x":190000,"y":13},{"s":"c06","x":200000,"y":14.7},{"s":"c06","x":247000,"y":13.2},
{"s":"c07","x":0,"y":1},{"s":"c07","x":20000,"y":1.5},{"s":"c07","x":50000,"y":2.6},{"s":"c07","x":80000,"y":4.0},{"s":"c07","x":110000,"y":4.9},{"s":"c07","x":150000,"y":5.1},{"s":"c07","x":200000,"y":5.3},{"s":"c07","x":247000,"y":5.2},
{"s":"c08","x":0,"y":1},{"s":"c08","x":14000,"y":1.6},{"s":"c08","x":20000,"y":2.4},{"s":"c08","x":27000,"y":3.6},{"s":"c08","x":38000,"y":3.8},{"s":"c08","x":63000,"y":5.5},{"s":"c08","x":76000,"y":7.2},{"s":"c08","x":88000,"y":8.6},{"s":"c08","x":112000,"y":9.3},{"s":"c08","x":137000,"y":9.6},{"s":"c08","x":175000,"y":9.4},{"s":"c08","x":247000,"y":8.9},
{"s":"c09","x":0,"y":1},{"s":"c09","x":20000,"y":1.6},{"s":"c09","x":45000,"y":2.4},{"s":"c09","x":75000,"y":3.4},{"s":"c09","x":105000,"y":4.6},{"s":"c09","x":135000,"y":5.8},{"s":"c09","x":165000,"y":7.0},{"s":"c09","x":200000,"y":7.6},{"s":"c09","x":247000,"y":7.6},
{"s":"c10","x":0,"y":1},{"s":"c10","x":15000,"y":1.6},{"s":"c10","x":27000,"y":2.5},{"s":"c10","x":38000,"y":3.5},{"s":"c10","x":63000,"y":3.6},{"s":"c10","x":88000,"y":5.5},{"s":"c10","x":112000,"y":7.8},{"s":"c10","x":125000,"y":11},{"s":"c10","x":137000,"y":11.7},{"s":"c10","x":175000,"y":11.2},{"s":"c10","x":215000,"y":10.8},{"s":"c10","x":247000,"y":10.3},
{"s":"c11","x":0,"y":1},{"s":"c11","x":25000,"y":1.6},{"s":"c11","x":40000,"y":3.3},{"s":"c11","x":60000,"y":4.0},{"s":"c11","x":80000,"y":5.0},{"s":"c11","x":110000,"y":5.6},{"s":"c11","x":150000,"y":6.0},{"s":"c11","x":200000,"y":6.2},{"s":"c11","x":247000,"y":6.0},
{"s":"c12","x":0,"y":1},{"s":"c12","x":20000,"y":1.5},{"s":"c12","x":40000,"y":2.2},{"s":"c12","x":70000,"y":3.0},{"s":"c12","x":100000,"y":3.8},{"s":"c12","x":140000,"y":4.3},{"s":"c12","x":190000,"y":4.3},{"s":"c12","x":247000,"y":4.0},
{"s":"c13","x":0,"y":1},{"s":"c13","x":20000,"y":1.5},{"s":"c13","x":50000,"y":1.9},{"s":"c13","x":100000,"y":2.0},{"s":"c13","x":170000,"y":1.9},{"s":"c13","x":247000,"y":1.8},
{"s":"c14","x":0,"y":1},{"s":"c14","x":25000,"y":1.4},{"s":"c14","x":38000,"y":1.8},{"s":"c14","x":50000,"y":3.6},{"s":"c14","x":76000,"y":4.9},{"s":"c14","x":112000,"y":4.7},{"s":"c14","x":137000,"y":4.2},{"s":"c14","x":186000,"y":3.6},{"s":"c14","x":247000,"y":2.7},
{"s":"c15","x":0,"y":1},{"s":"c15","x":25000,"y":1.3},{"s":"c15","x":80000,"y":1.45},{"s":"c15","x":160000,"y":1.4},{"s":"c15","x":247000,"y":1.25},
{"s":"c16","x":0,"y":1},{"s":"c16","x":16000,"y":1.7},{"s":"c16","x":22000,"y":2.4},{"s":"c16","x":60000,"y":2.6},{"s":"c16","x":120000,"y":2.5},{"s":"c16","x":180000,"y":2.4},{"s":"c16","x":247000,"y":2.25},
{"s":"c17","x":0,"y":1},{"s":"c17","x":20000,"y":1.6},{"s":"c17","x":50000,"y":2.5},{"s":"c17","x":90000,"y":3.2},{"s":"c17","x":140000,"y":3.6},{"s":"c17","x":200000,"y":3.7},{"s":"c17","x":247000,"y":3.6},
{"s":"c18","x":0,"y":1},{"s":"c18","x":20000,"y":1.6},{"s":"c18","x":40000,"y":2.7},{"s":"c18","x":70000,"y":3.0},{"s":"c18","x":120000,"y":3.4},{"s":"c18","x":180000,"y":3.4},{"s":"c18","x":247000,"y":3.3},
{"s":"c19","x":0,"y":1},{"s":"c19","x":30000,"y":1.25},{"s":"c19","x":100000,"y":1.3},{"s":"c19","x":180000,"y":1.2},{"s":"c19","x":247000,"y":1.08},
{"s":"c20","x":0,"y":1},{"s":"c20","x":30000,"y":1.2},{"s":"c20","x":100000,"y":1.15},{"s":"c20","x":180000,"y":1.05},{"s":"c20","x":247000,"y":0.95},
{"s":"c21","x":0,"y":1},{"s":"c21","x":20000,"y":1.4},{"s":"c21","x":60000,"y":1.7},{"s":"c21","x":120000,"y":1.7},{"s":"c21","x":247000,"y":1.5},
{"s":"c22","x":0,"y":1},{"s":"c22","x":25000,"y":1.012},{"s":"c22","x":70000,"y":1.03},{"s":"c22","x":150000,"y":1.05},{"s":"c22","x":200000,"y":1.06},{"s":"c22","x":247000,"y":1.07},
{"s":"c23","x":0,"y":1},{"s":"c23","x":25000,"y":0.996},{"s":"c23","x":70000,"y":0.991},{"s":"c23","x":150000,"y":0.984},{"s":"c23","x":200000,"y":0.9806},{"s":"c23","x":247000,"y":0.977},
{"s":"c24","x":0,"y":1},{"s":"c24","x":25000,"y":0.981},{"s":"c24","x":70000,"y":0.954},{"s":"c24","x":150000,"y":0.924},{"s":"c24","x":200000,"y":0.9068},{"s":"c24","x":247000,"y":0.891},
{"s":"c25","x":0,"y":1},{"s":"c25","x":25000,"y":0.965},{"s":"c25","x":70000,"y":0.919},{"s":"c25","x":150000,"y":0.867},{"s":"c25","x":200000,"y":0.8384},{"s":"c25","x":247000,"y":0.813},
{"s":"c26","x":0,"y":1},{"s":"c26","x":25000,"y":0.95},{"s":"c26","x":70000,"y":0.885},{"s":"c26","x":150000,"y":0.813},{"s":"c26","x":200000,"y":0.775},{"s":"c26","x":247000,"y":0.741},
{"s":"c27","x":0,"y":1},{"s":"c27","x":25000,"y":0.936},{"s":"c27","x":70000,"y":0.851},{"s":"c27","x":150000,"y":0.763},{"s":"c27","x":200000,"y":0.7167},{"s":"c27","x":247000,"y":0.676},
{"s":"c28","x":0,"y":1},{"s":"c28","x":25000,"y":0.921},{"s":"c28","x":70000,"y":0.82},{"s":"c28","x":150000,"y":0.716},{"s":"c28","x":200000,"y":0.6628},{"s":"c28","x":247000,"y":0.617},
{"s":"c29","x":0,"y":1},{"s":"c29","x":25000,"y":0.907},{"s":"c29","x":70000,"y":0.79},{"s":"c29","x":150000,"y":0.672},{"s":"c29","x":200000,"y":0.6129},{"s":"c29","x":247000,"y":0.562},
{"s":"c30","x":0,"y":1},{"s":"c30","x":25000,"y":0.893},{"s":"c30","x":70000,"y":0.76},{"s":"c30","x":150000,"y":0.631},{"s":"c30","x":200000,"y":0.5667},{"s":"c30","x":247000,"y":0.513},
{"s":"c31","x":0,"y":1},{"s":"c31","x":25000,"y":0.879},{"s":"c31","x":70000,"y":0.732},{"s":"c31","x":150000,"y":0.592},{"s":"c31","x":200000,"y":0.524},{"s":"c31","x":247000,"y":0.468},
{"s":"c32","x":0,"y":1},{"s":"c32","x":25000,"y":0.865},{"s":"c32","x":70000,"y":0.705},{"s":"c32","x":150000,"y":0.556},{"s":"c32","x":200000,"y":0.4846},{"s":"c32","x":247000,"y":0.427},
{"s":"c33","x":0,"y":1},{"s":"c33","x":25000,"y":0.852},{"s":"c33","x":70000,"y":0.679},{"s":"c33","x":150000,"y":0.521},{"s":"c33","x":200000,"y":0.4481},{"s":"c33","x":247000,"y":0.389},
{"s":"c34","x":0,"y":1},{"s":"c34","x":25000,"y":0.839},{"s":"c34","x":70000,"y":0.654},{"s":"c34","x":150000,"y":0.489},{"s":"c34","x":200000,"y":0.4144},{"s":"c34","x":247000,"y":0.355},
{"s":"c35","x":0,"y":1},{"s":"c35","x":25000,"y":0.826},{"s":"c35","x":70000,"y":0.63},{"s":"c35","x":150000,"y":0.459},{"s":"c35","x":200000,"y":0.3832},{"s":"c35","x":247000,"y":0.324},
{"s":"c36","x":0,"y":1},{"s":"c36","x":25000,"y":0.813},{"s":"c36","x":70000,"y":0.606},{"s":"c36","x":150000,"y":0.431},{"s":"c36","x":200000,"y":0.3543},{"s":"c36","x":247000,"y":0.295},
{"s":"c37","x":0,"y":1},{"s":"c37","x":25000,"y":0.8},{"s":"c37","x":70000,"y":0.584},{"s":"c37","x":150000,"y":0.404},{"s":"c37","x":200000,"y":0.3277},{"s":"c37","x":247000,"y":0.269},
{"s":"c38","x":0,"y":1},{"s":"c38","x":25000,"y":0.788},{"s":"c38","x":70000,"y":0.562},{"s":"c38","x":150000,"y":0.379},{"s":"c38","x":200000,"y":0.303},{"s":"c38","x":247000,"y":0.245},
{"s":"c39","x":0,"y":1},{"s":"c39","x":25000,"y":0.775},{"s":"c39","x":70000,"y":0.541},{"s":"c39","x":150000,"y":0.356},{"s":"c39","x":200000,"y":0.2802},{"s":"c39","x":247000,"y":0.224},
{"s":"c40","x":0,"y":1},{"s":"c40","x":25000,"y":0.763},{"s":"c40","x":70000,"y":0.521},{"s":"c40","x":150000,"y":0.334},{"s":"c40","x":200000,"y":0.2591},{"s":"c40","x":247000,"y":0.204},
{"s":"c41","x":0,"y":1},{"s":"c41","x":25000,"y":0.751},{"s":"c41","x":70000,"y":0.502},{"s":"c41","x":150000,"y":0.313},{"s":"c41","x":200000,"y":0.2396},{"s":"c41","x":247000,"y":0.186},
{"s":"c42","x":0,"y":1},{"s":"c42","x":25000,"y":0.74},{"s":"c42","x":70000,"y":0.483},{"s":"c42","x":150000,"y":0.294},{"s":"c42","x":200000,"y":0.2216},{"s":"c42","x":247000,"y":0.17},
{"s":"c43","x":0,"y":1},{"s":"c43","x":25000,"y":0.728},{"s":"c43","x":70000,"y":0.466},{"s":"c43","x":150000,"y":0.276},{"s":"c43","x":200000,"y":0.2049},{"s":"c43","x":247000,"y":0.155},
{"s":"c44","x":0,"y":1},{"s":"c44","x":25000,"y":0.717},{"s":"c44","x":70000,"y":0.448},{"s":"c44","x":150000,"y":0.259},{"s":"c44","x":200000,"y":0.1895},{"s":"c44","x":247000,"y":0.141},
{"s":"c45","x":0,"y":1},{"s":"c45","x":25000,"y":0.706},{"s":"c45","x":70000,"y":0.432},{"s":"c45","x":150000,"y":0.243},{"s":"c45","x":200000,"y":0.1752},{"s":"c45","x":247000,"y":0.129},
{"s":"c46","x":0,"y":1},{"s":"c46","x":25000,"y":0.695},{"s":"c46","x":70000,"y":0.416},{"s":"c46","x":150000,"y":0.228},{"s":"c46","x":200000,"y":0.162},{"s":"c46","x":247000,"y":0.1175},
{"s":"c47","x":0,"y":1},{"s":"c47","x":25000,"y":0.684},{"s":"c47","x":70000,"y":0.4},{"s":"c47","x":150000,"y":0.214},{"s":"c47","x":200000,"y":0.1498},{"s":"c47","x":247000,"y":0.107},
{"s":"c48","x":0,"y":1},{"s":"c48","x":25000,"y":0.674},{"s":"c48","x":70000,"y":0.385},{"s":"c48","x":150000,"y":0.201},{"s":"c48","x":200000,"y":0.1385},{"s":"c48","x":247000,"y":0.0977},
{"s":"c49","x":0,"y":1},{"s":"c49","x":25000,"y":0.663},{"s":"c49","x":70000,"y":0.371},{"s":"c49","x":150000,"y":0.1886},{"s":"c49","x":200000,"y":0.1281},{"s":"c49","x":247000,"y":0.0891},
{"s":"c50","x":0,"y":1},{"s":"c50","x":25000,"y":0.653},{"s":"c50","x":70000,"y":0.357},{"s":"c50","x":150000,"y":0.177},{"s":"c50","x":200000,"y":0.1184},{"s":"c50","x":247000,"y":0.0813},
{"s":"c51","x":0,"y":1},{"s":"c51","x":25000,"y":0.643},{"s":"c51","x":70000,"y":0.344},{"s":"c51","x":150000,"y":0.166},{"s":"c51","x":200000,"y":0.1095},{"s":"c51","x":247000,"y":0.0741},
{"s":"c52","x":0,"y":1},{"s":"c52","x":25000,"y":0.633},{"s":"c52","x":70000,"y":0.331},{"s":"c52","x":150000,"y":0.156},{"s":"c52","x":200000,"y":0.1013},{"s":"c52","x":247000,"y":0.0676},
{"s":"c53","x":0,"y":1},{"s":"c53","x":25000,"y":0.623},{"s":"c53","x":70000,"y":0.319},{"s":"c53","x":150000,"y":0.1462},{"s":"c53","x":200000,"y":0.0936},{"s":"c53","x":247000,"y":0.0617},
{"s":"c54","x":0,"y":1},{"s":"c54","x":25000,"y":0.613},{"s":"c54","x":70000,"y":0.307},{"s":"c54","x":150000,"y":0.1372},{"s":"c54","x":200000,"y":0.0866},{"s":"c54","x":247000,"y":0.0562},
{"s":"c55","x":0,"y":1},{"s":"c55","x":25000,"y":0.604},{"s":"c55","x":70000,"y":0.296},{"s":"c55","x":150000,"y":0.1288},{"s":"c55","x":200000,"y":0.0801},{"s":"c55","x":247000,"y":0.0513},
{"s":"c56","x":0,"y":1},{"s":"c56","x":25000,"y":0.594},{"s":"c56","x":70000,"y":0.285},{"s":"c56","x":150000,"y":0.1209},{"s":"c56","x":200000,"y":0.074},{"s":"c56","x":247000,"y":0.0468},
{"s":"c57","x":0,"y":1},{"s":"c57","x":25000,"y":0.585},{"s":"c57","x":70000,"y":0.274},{"s":"c57","x":150000,"y":0.1135},{"s":"c57","x":200000,"y":0.0685},{"s":"c57","x":247000,"y":0.0427},
{"s":"c58","x":0,"y":1},{"s":"c58","x":25000,"y":0.576},{"s":"c58","x":70000,"y":0.264},{"s":"c58","x":150000,"y":0.1064},{"s":"c58","x":200000,"y":0.0633},{"s":"c58","x":247000,"y":0.0389},
{"s":"c59","x":0,"y":1},{"s":"c59","x":25000,"y":0.567},{"s":"c59","x":70000,"y":0.254},{"s":"c59","x":150000,"y":0.0999},{"s":"c59","x":200000,"y":0.0586},{"s":"c59","x":247000,"y":0.0355},
{"s":"c60","x":0,"y":1},{"s":"c60","x":25000,"y":0.558},{"s":"c60","x":70000,"y":0.245},{"s":"c60","x":150000,"y":0.0937},{"s":"c60","x":200000,"y":0.0541},{"s":"c60","x":247000,"y":0.0324}
]
},
"concat": [
{
"width": 445, "height": 336,
"title": {"text": "|fbest,med,worst|, f − min(f), σ, axis ratio", "frame": "group", "offset": 10},
"encoding": {
"x": {"field": "x", "type": "quantitative", "scale": {"domain": [-12740, 257280], "nice": false, "zero": false}, "axis": {"values": [0, 50000, 100000, 150000, 200000, 250000], "format": "d", "title": null}},
"y": {"field": "y", "type": "quantitative", "scale": {"type": "log", "domain": [2.5e-8, 1.17e8], "nice": false}, "axis": {"values": [0.00001, 0.01, 10, 10000, 10000000], "title": null, "labelExpr": "datum.value > 1000000 ? '10⁷' : datum.value > 1000 ? '10⁴' : datum.value > 1 ? '10¹' : datum.value > 0.001 ? '10⁻²' : '10⁻⁵'"}}
},
"layer": [
{"data": {"name": "tl"}, "transform": [{"filter": "datum.s == 'absf'"}], "mark": {"type": "line", "color": "#0000ff", "strokeWidth": 9, "strokeJoin": "round"}},
{"data": {"name": "tl"}, "transform": [{"filter": "datum.s == 'fmin'"}], "mark": {"type": "line", "color": "#00bfbf", "strokeWidth": 3.5, "strokeJoin": "round"}},
{"data": {"name": "tl"}, "transform": [{"filter": "datum.s == 'ar'"}], "mark": {"type": "line", "color": "#ff0000", "strokeWidth": 2.8, "strokeJoin": "round"}},
{"data": {"name": "tl"}, "transform": [{"filter": "datum.s == 'sigma'"}], "mark": {"type": "line", "color": "#008000", "strokeWidth": 2.8, "strokeJoin": "round"}},
{"data": {"name": "tl"}, "transform": [{"filter": "datum.s == 'maxstd' || datum.s == 'minstd'"}], "mark": {"type": "line", "color": "#bf00bf", "strokeWidth": 4.5, "strokeJoin": "round"}, "encoding": {"detail": {"field": "s"}}},
{"data": {"name": "tl"}, "transform": [{"filter": "datum.s == 'worst'"}], "mark": {"type": "line", "color": "#000000", "strokeWidth": 2}},
{"data": {"name": "tldots"}, "mark": {"type": "circle", "color": "#ff0000", "size": 784, "opacity": 1}},
{"data": {"name": "tltext"}, "mark": {"type": "text", "align": "left", "baseline": "alphabetic", "fontSize": 24.8, "font": "DejaVu Sans", "color": "#000000"}, "encoding": {"text": {"field": "t"}}},
{"data": {"name": "tlsub"}, "mark": {"type": "text", "align": "left", "baseline": "alphabetic", "fontSize": 17.5, "font": "DejaVu Sans", "color": "#000000", "dx": 20, "dy": 6}, "encoding": {"text": {"field": "t"}}}
]
},
{
"width": 446, "height": 336,
"title": {"text": "Object Variables (curr best, 100-D, popsize~17)", "frame": "group", "offset": 10},
"data": {"name": "tr"},
"mark": {"type": "line", "strokeWidth": 3, "strokeJoin": "round"},
"encoding": {
"x": {"field": "x", "type": "quantitative", "scale": {"domain": [-12800, 259150], "nice": false, "zero": false}, "axis": {"values": [0, 50000, 100000, 150000, 200000, 250000], "format": "d", "title": null}},
"y": {"field": "y", "type": "quantitative", "scale": {"domain": [-9.04, 8.83], "nice": false, "zero": false}, "axis": {"values": [-5, 0, 5], "title": null}},
"color": {"field": "s", "type": "nominal", "scale": {"range": ["#1f77b4","#ff7f0e","#2ca02c","#d62728","#9467bd","#8c564b","#e377c2","#7f7f7f","#bcbd22","#17becf"]}, "legend": null}
}
},
{
"width": 445, "height": 332,
"title": {"text": "Principle Axes Lengths", "frame": "group", "offset": 10},
"data": {"name": "bl"},
"encoding": {
"x": {"field": "x", "type": "quantitative", "scale": {"domain": [-12740, 257280], "nice": false, "zero": false}, "axis": {"values": [0, 50000, 100000, 150000, 200000, 250000], "format": "d", "title": "function evaluations"}},
"y": {"field": "y", "type": "quantitative", "scale": {"type": "log", "domain": [0.0245, 32.8], "nice": false}, "axis": {"values": [0.03,0.04,0.05,0.06,0.07,0.08,0.09,0.1,0.2,0.3,0.4,0.5,0.6,0.7,0.8,0.9,1,2,3,4,5,6,7,8,9,10,20,30], "title": null,
"labelExpr": "abs(datum.value-10)<0.001 ? '10¹' : abs(datum.value-1)<0.0001 ? '10⁰' : abs(datum.value-0.1)<0.00001 ? '10⁻¹' : ''",
"gridOpacity": {"condition": {"test": "abs(datum.value-10)<0.001 || abs(datum.value-1)<0.0001 || abs(datum.value-0.1)<0.00001", "value": 1}, "value": 0},
"tickSize": {"condition": {"test": "abs(datum.value-10)<0.001 || abs(datum.value-1)<0.0001 || abs(datum.value-0.1)<0.00001", "value": 8.5}, "value": 5},
"tickWidth": {"condition": {"test": "abs(datum.value-10)<0.001 || abs(datum.value-1)<0.0001 || abs(datum.value-0.1)<0.00001", "value": 2}, "value": 1.5}}},
"detail": {"field": "s"}
},
"layer": [
{"transform": [{"filter": "indexof(datum.s, 'd') == 0"}], "mark": {"type": "line", "color": "#0000ff", "strokeWidth": 4.6, "strokeJoin": "round"}},
{"transform": [{"filter": "indexof(datum.s, 'b') == 0"}], "mark": {"type": "line", "color": "#0000ff", "strokeWidth": 3, "strokeJoin": "round"}}
]
},
{
"width": 446, "height": 332,
"title": {"text": "Standard Deviations × σ⁻¹ in All Coordinates", "frame": "group", "offset": 10},
"data": {"name": "br"},
"mark": {"type": "line", "strokeWidth": 3, "strokeJoin": "round"},
"encoding": {
"x": {"field": "x", "type": "quantitative", "scale": {"domain": [-12800, 259150], "nice": false, "zero": false}, "axis": {"values": [0, 50000, 100000, 150000, 200000, 250000], "format": "d", "title": "function evaluations"}},
"y": {"field": "y", "type": "quantitative", "scale": {"type": "log", "domain": [0.0248, 27.2], "nice": false}, "axis": {"values": [0.03,0.04,0.05,0.06,0.07,0.08,0.09,0.1,0.2,0.3,0.4,0.5,0.6,0.7,0.8,0.9,1,2,3,4,5,6,7,8,9,10,20], "title": null,
"labelExpr": "abs(datum.value-10)<0.001 ? '10¹' : abs(datum.value-1)<0.0001 ? '10⁰' : abs(datum.value-0.1)<0.00001 ? '10⁻¹' : ''",
"gridOpacity": {"condition": {"test": "abs(datum.value-10)<0.001 || abs(datum.value-1)<0.0001 || abs(datum.value-0.1)<0.00001", "value": 1}, "value": 0},
"tickSize": {"condition": {"test": "abs(datum.value-10)<0.001 || abs(datum.value-1)<0.0001 || abs(datum.value-0.1)<0.00001", "value": 8.5}, "value": 5},
"tickWidth": {"condition": {"test": "abs(datum.value-10)<0.001 || abs(datum.value-1)<0.0001 || abs(datum.value-0.1)<0.00001", "value": 2}, "value": 1.5}}},
"color": {"field": "s", "type": "nominal", "scale": {"range": ["#1f77b4","#ff7f0e","#2ca02c","#d62728","#9467bd","#8c564b","#e377c2","#7f7f7f","#bcbd22","#17becf"]}, "legend": null}
}
}
],
"config": {
"font": "DejaVu Sans",
"view": {"stroke": "#000000", "strokeWidth": 2, "fill": "#ffffff"},
"axis": {"domain": false, "grid": true, "gridColor": "#b0b0b0", "gridWidth": 2, "tickColor": "#000000", "tickWidth": 2, "tickSize": 8.5, "labelFont": "DejaVu Sans", "labelFontSize": 24.8, "labelColor": "#000000", "labelPadding": 6, "titleFont": "DejaVu Sans", "titleFontSize": 24.8, "titleFontWeight": "normal", "titleColor": "#000000", "titlePadding": 16, "labelOverlap": false, "labelFlush": false, "labelBound": false},
"title": {"font": "DejaVu Sans", "fontSize": 29.7, "fontWeight": "normal", "color": "#000000", "offset": 10, "baseline": "alphabetic", "anchor": "middle"}
}
}
